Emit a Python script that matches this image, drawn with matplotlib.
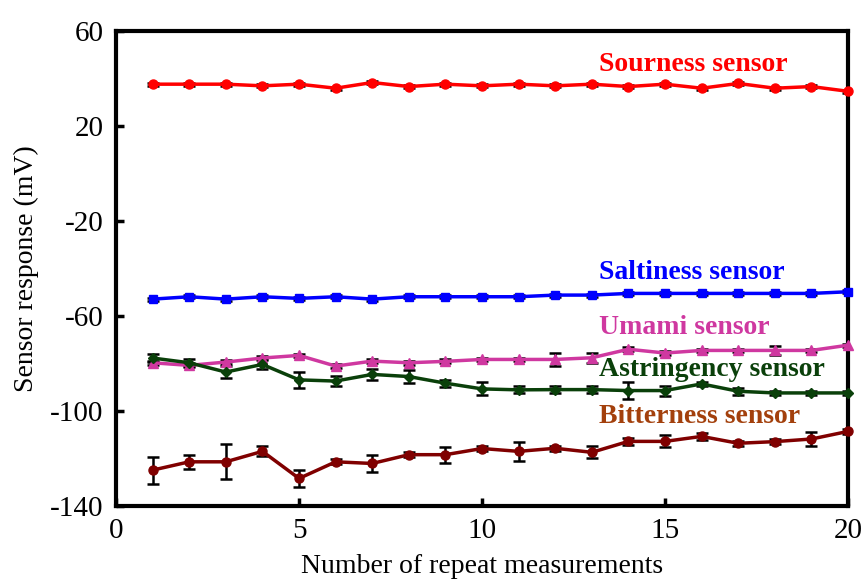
import numpy as np
import matplotlib
matplotlib.use("Agg")
import matplotlib.pyplot as plt

plt.rcParams["font.family"] = ["Liberation Serif", "DejaVu Serif"]
plt.rcParams["axes.unicode_minus"] = False

# repeat measurement index
runs = list(range(1, 21))

sourness = [37.6, 37.6, 37.6, 36.9, 37.6, 35.9, 38.3, 36.6, 37.6, 36.9,
            37.6, 36.9, 37.6, 36.6, 37.6, 35.9, 37.9, 35.9, 36.6, 34.6]
sourness_err = [0.6] * 20

saltiness = [-52.9, -51.9, -52.9, -51.9, -52.6, -51.9, -52.9, -51.9, -51.9, -51.9,
             -51.9, -51.2, -51.2, -50.5, -50.5, -50.5, -50.5, -50.5, -50.5, -49.8]
saltiness_err = [0.6] * 20

umami = [-79.7, -80.8, -79.4, -77.7, -76.6, -81.1, -79.0, -79.7, -79.1, -78.3,
         -78.3, -78.3, -77.6, -74.0, -75.6, -74.5, -74.5, -74.5, -74.5, -72.3]
umami_err = [0.8, 0.8, 0.8, 0.8, 0.8, 0.8, 0.8, 0.8, 0.8, 0.8,
             0.8, 2.7, 2.1, 0.8, 0.8, 0.8, 0.8, 1.9, 0.8, 0.6]

astringency = [-77.7, -79.7, -83.6, -80.4, -86.9, -87.4, -84.6, -85.5, -88.3, -90.7,
               -91.1, -91.0, -91.0, -91.4, -91.4, -88.6, -91.7, -92.4, -92.4, -92.4]
astringency_err = [1.5, 1.5, 2.6, 2.1, 3.5, 2.1, 2.4, 2.8, 1.5, 2.7,
                   1.5, 1.5, 1.5, 3.5, 2.1, 1.0, 1.5, 1.0, 1.0, 1.0]

bitterness = [-124.9, -121.4, -121.4, -117.0, -128.4, -121.4, -122.1, -118.4, -118.4, -115.8,
              -117.0, -115.7, -117.4, -112.8, -112.8, -110.7, -113.6, -112.9, -111.8, -108.6]
bitterness_err = [5.7, 3.0, 7.3, 2.1, 3.7, 1.0, 3.4, 1.0, 3.4, 1.0,
                  3.9, 1.0, 2.5, 1.5, 2.5, 1.5, 1.0, 1.0, 2.8, 1.0]

# name, values, errors, line colour, marker, label colour, label y
series = [
    ("Sourness sensor", sourness, sourness_err, "#ff0000", "o", "#ff0000", 46.0),
    ("Saltiness sensor", saltiness, saltiness_err, "#0000ff", "s", "#0000ff", -41.5),
    ("Umami sensor", umami, umami_err, "#cf38a0", "^", "#cf38a0", -64.7),
    ("Astringency sensor", astringency, astringency_err, "#0a400a", "D", "#0a400a", -82.5),
    ("Bitterness sensor", bitterness, bitterness_err, "#800000", "o", "#a3400c", -102.4),
]
label_x = 13.2

fig = plt.figure(figsize=(8.62, 5.79), dpi=100)
ax = fig.add_axes([0.1346, 0.1261, 0.8492, 0.8204])

for name, vals, errs, color, marker, text_color, text_y in series:
    ax.errorbar(runs, vals, yerr=errs, fmt="none", ecolor="black",
                elinewidth=1.8, capsize=4, capthick=1.8, zorder=2)
    ms = {"o": 6.5, "s": 6, "^": 7, "D": 5.5}[marker]
    ax.plot(runs, vals, color=color, marker=marker, markersize=ms,
            linewidth=2.5, zorder=3, clip_on=False)
    ax.text(label_x, text_y, name, color=text_color, fontsize=20,
            fontweight="bold", ha="left", va="center")

ax.set_xlim(0, 20)
ax.set_ylim(-140, 60)
ax.set_xticks([0, 5, 10, 15, 20])
ax.set_yticks([60, 20, -20, -60, -100, -140])

for side in ["left", "right", "top", "bottom"]:
    ax.spines[side].set_linewidth(3)

ax.tick_params(direction="in", length=6, width=2.5, labelsize=21, pad=9)
ax.set_xlabel("Number of repeat measurements", fontsize=20, labelpad=7)
ax.set_ylabel("Sensor response (mV)", fontsize=20, labelpad=8)

fig.savefig("out.png", dpi=100)
